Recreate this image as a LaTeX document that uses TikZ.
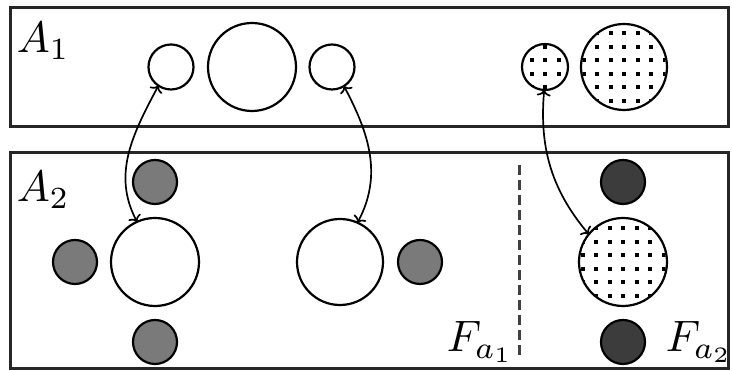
\documentclass[tikz,border=0pt]{standalone}
\usetikzlibrary{arrows.meta,calc}
\definecolor{midgray}{RGB}{122,122,122}
\definecolor{darkball}{RGB}{60,60,60}
\tikzset{
  region/.style={draw=black!85, line width=3pt},
  ring/.style={circle, draw, line width=2.2pt, inner sep=0pt, outer sep=0pt, minimum size=#1},
  grayball/.style={ring=44pt, fill=midgray},
  blackball/.style={ring=44pt, fill=darkball},
  link/.style={{To[length=6pt,width=14pt]}-{To[length=6pt,width=14pt]}, line width=1.7pt},
  lab/.style={anchor=base west, inner sep=0pt, scale=4.4},
  sep/.style={line width=3pt, draw=black!75, dash pattern=on 10pt off 5pt},
  dotsq/.style={fill=black, draw=none}
}
\newcommand{\dotgrid}[2]{%
  \begin{scope}
    \clip (#1.center) circle[radius=#2];
    \foreach \i in {-4,...,4}{\foreach \j in {-4,...,3}{
      \path[dotsq] ($(#1.center)+(\i*13.5-2,\j*13.5+4.75)$) rectangle +(4,4);}}
  \end{scope}}
\begin{document}
\begin{tikzpicture}[x=1pt,y=1pt]
\useasboundingbox (0,0) rectangle (732,371);
% regions
\draw[region] (10,244) rectangle (728,363);
\draw[region] (10,2) rectangle (728,218);
% top row
\node[ring=45pt] (s1) at (171,304) {};
\node[ring=88pt] (B1) at (252,304) {};
\node[ring=45pt] (s3) at (332,304) {};
\node[ring=46pt] (ds) at (545,304) {};
\node[ring=86pt] (dB) at (624,304) {};
% bottom row
\node[grayball] (gt) at (155,189) {};
\node[grayball] (gl) at (75,109) {};
\node[ring=88pt] (W1) at (155,109) {};
\node[grayball] (gb) at (155,29) {};
\node[ring=86pt] (W2) at (340,109) {};
\node[grayball] (gr) at (420,109) {};
\node[blackball] (kt) at (623,189) {};
\node[ring=88pt] (dB2) at (623,109) {};
\node[blackball] (kb) at (623,29) {};
% dotted fills
\dotgrid{ds}{22}
\dotgrid{dB}{42}
\dotgrid{dB2}{43}
% separator
\coordinate (d1) at (519,206);
\coordinate (d2) at (519,14);
\draw[sep] (d1) -- (d2);
% links
\draw[link] (s1.236) to[out=242,in=118] (W1.114);
\draw[link] (s3.302) to[out=298,in=62] (W2.66);
\draw[link] (ds.268) .. controls +(265:58) and +(130:58) .. (dB2.141);
% labels
\node[lab] (A1) at (16,318) {$A_1$};
\node[lab] (A2) at (16,169) {$A_2$};
\node[lab] (F1) at (446,19) {$F_{a_1}$};
\node[lab] (F2) at (665,19) {$F_{a_2}$};
\end{tikzpicture}
\end{document}
